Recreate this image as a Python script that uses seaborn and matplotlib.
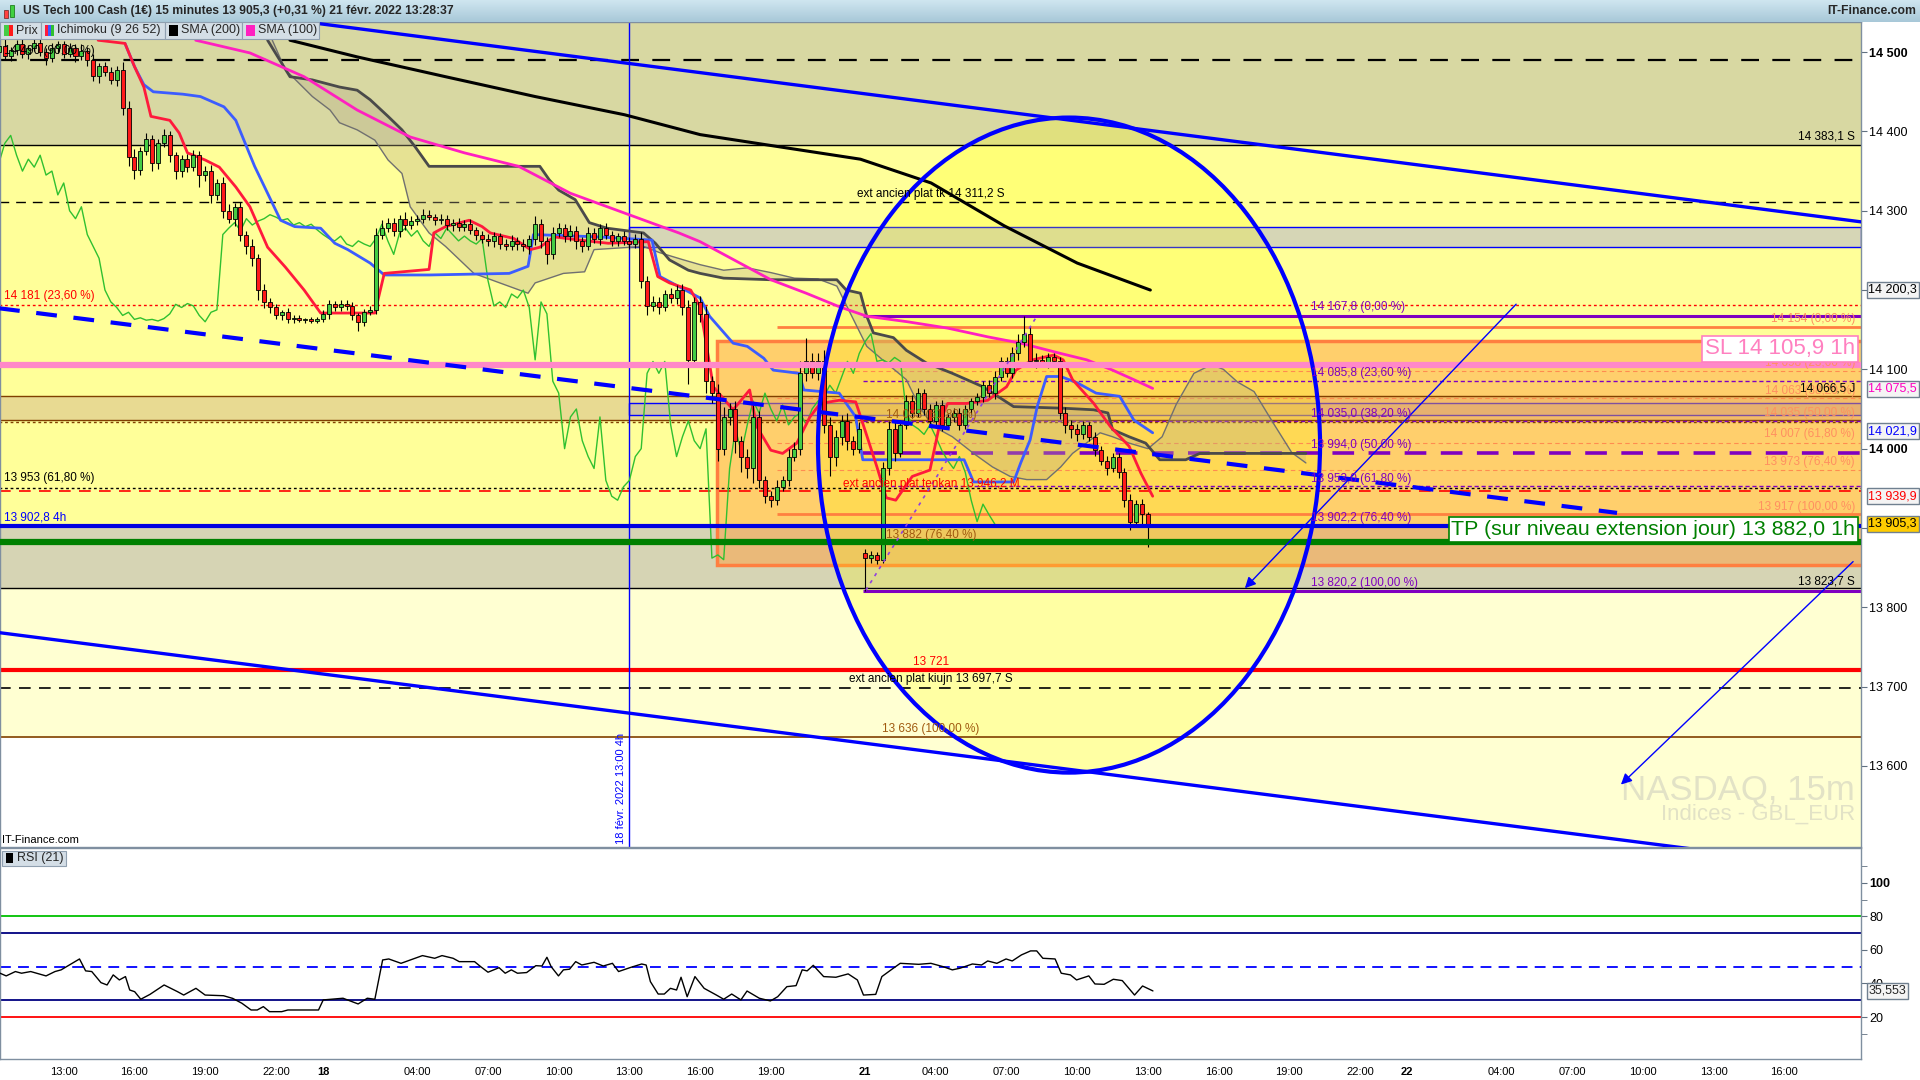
import numpy as np
import pandas as pd
import seaborn as sns
import matplotlib.pyplot as plt
import matplotlib.transforms as mtransforms
from matplotlib.colors import LinearSegmentedColormap
from matplotlib.patches import Ellipse, Rectangle, FancyArrowPatch

# ---------------- données ----------------
# bougies 15 min ; axe X = heures de cotation continues depuis le 17 févr 00:00 (week-end retiré)
first_hour = 10.0
bar_step = 0.25
first_open = 14496
monday_hour = 47.0          # 21 févr, première bougie (gap)
monday_open = 13868

closes = [
    14500, 14508, 14495, 14503, 14510, 14498, 14505, 14512,
    14500, 14492, 14505, 14510, 14498, 14505, 14495, 14502,
    14490, 14470, 14482, 14475, 14465, 14478, 14430, 14368,
    14352, 14375, 14390, 14360, 14385, 14395, 14370, 14350,
    14365, 14355, 14370, 14345, 14350, 14320, 14335, 14300,
    14290, 14305, 14270, 14255, 14240, 14200, 14185, 14178,
    14168, 14172, 14163, 14165, 14162, 14163, 14161, 14164,
    14170, 14182, 14178, 14183, 14180, 14168, 14160, 14172,
    14175, 14270, 14278, 14285, 14275, 14290, 14282, 14287,
    14290, 14295, 14292, 14288, 14290, 14282, 14285, 14280,
    14283, 14276, 14270, 14265, 14262, 14268, 14258, 14255,
    14262, 14258, 14255, 14265, 14283, 14262, 14245, 14272,
    14278, 14268, 14275, 14262, 14255, 14272, 14265, 14278,
    14270, 14262, 14268, 14262, 14258, 14265, 14212, 14180,
    14185, 14178, 14195, 14190, 14200, 14178, 14112, 14185,
    14170, 14085, 14070, 14000, 14040, 14050, 14010, 13990,
    13975, 14040, 13960, 13940, 13935, 13952, 13960, 13990,
    14000, 14095, 14110, 14095, 14110, 14030, 13990, 14015,
    14035, 14010, 14000, 14025,
    13862, 13866, 13860, 13975, 14025, 13995, 14030, 14060,
    14045, 14070, 14050, 14035, 14055, 14030, 14040, 14045,
    14030, 14050, 14060, 14065, 14080, 14070, 14090, 14110,
    14095, 14120, 14135, 14145, 14110, 14112, 14108, 14115,
    14110, 14045, 14030, 14025, 14018, 14030, 14015, 13998,
    13985, 13975, 13990, 13970, 13935, 13908, 13930, 13917,
    13905,
]
wick_up = [
    6, 5, 8, 4, 5, 8, 4, 6, 7, 5, 6, 4, 4, 6, 5, 8,
    5, 8, 4, 6, 6, 5, 10, 8, 10, 6, 8, 5, 6, 8, 5, 4,
    5, 7, 6, 5, 6, 8, 5, 7, 8, 5, 6, 4, 9, 6, 8, 5,
    4, 3, 5, 3, 3, 2, 3, 2, 5, 6, 4, 5, 4, 5, 3, 4,
    5, 8, 10, 6, 6, 5, 8, 6, 5, 7, 6, 4, 6, 5, 4, 6,
    5, 6, 4, 5, 6, 5, 4, 6, 8, 5, 6, 4, 10, 6, 5, 8,
    6, 5, 7, 6, 5, 8, 6, 5, 6, 5, 4, 6, 5, 6, 8, 6,
    8, 6, 5, 7, 6, 8, 10, 6, 8, 10, 6, 12, 12, 8, 10, 6,
    10, 15, 8, 6, 6, 8, 5, 10, 8, 15, 30, 10, 10, 15, 10, 8,
    8, 10, 6, 8,
    6, 5, 4, 8, 10, 8, 6, 8, 8, 6, 5, 6, 5, 6, 4, 6,
    6, 5, 4, 5, 5, 6, 8, 6, 6, 8, 10, 22, 10, 8, 6, 5,
    5, 6, 8, 6, 6, 5, 4, 6, 5, 6, 4, 5, 6, 8, 5, 6,
    3,
]
wick_dn = [
    5, 7, 4, 6, 6, 5, 7, 4, 5, 8, 4, 6, 6, 4, 7, 5,
    8, 6, 9, 5, 5, 8, 9, 12, 12, 7, 5, 10, 7, 5, 9, 10,
    8, 6, 5, 15, 8, 10, 6, 9, 6, 9, 8, 10, 10, 12, 8, 7,
    5, 6, 4, 5, 2, 3, 2, 3, 4, 6, 5, 4, 5, 6, 12, 5,
    4, 5, 6, 5, 7, 8, 6, 5, 5, 6, 4, 6, 5, 6, 8, 5,
    6, 5, 7, 6, 7, 8, 6, 5, 5, 7, 6, 9, 8, 9, 12, 6,
    5, 7, 6, 10, 7, 5, 6, 8, 5, 7, 6, 5, 6, 5, 10, 12,
    6, 8, 5, 6, 7, 9, 30, 8, 10, 15, 12, 15, 8, 10, 15, 20,
    12, 18, 10, 8, 8, 6, 5, 7, 6, 8, 10, 6, 8, 10, 25, 12,
    10, 12, 8, 6,
    42, 6, 5, 4, 8, 10, 6, 5, 6, 5, 8, 7, 6, 8, 5, 7,
    7, 5, 6, 5, 6, 5, 7, 5, 5, 6, 8, 7, 6, 8, 5, 6,
    6, 8, 10, 12, 8, 6, 5, 7, 6, 8, 5, 7, 8, 10, 5, 12,
    29,
]

# Ichimoku (9 26 52) et moyennes mobiles : (heure, prix) relevés
tenkan = [(14.46, 14515), (15.6, 14511), (16.0, 14482), (16.4, 14456), (16.7, 14419), (17.5, 14414),
          (17.9, 14398), (18.25, 14373), (19.0, 14364), (19.6, 14355), (20.3, 14330), (20.9, 14305),
          (21.65, 14254), (22.4, 14229), (23.2, 14200), (23.9, 14171), (26.2, 14171), (26.6, 14221),
          (28.5, 14226), (28.7, 14272), (29.2, 14280), (30.2, 14288), (30.75, 14280), (31.1, 14272),
          (32.1, 14265), (32.8, 14251), (33.2, 14254), (33.8, 14267), (34.9, 14263), (36.1, 14259),
          (37.8, 14261), (38.2, 14217), (38.7, 14209), (39.6, 14200), (40.0, 14179), (40.56, 14078),
          (41.4, 14049), (42.1, 14074), (42.4, 14028), (43.0, 13998), (43.5, 13994), (44.1, 14007),
          (44.66, 14040), (45.1, 14057), (45.9, 14061), (46.6, 14059), (46.9, 14032), (47.5, 13977),
          (47.9, 13938), (48.3, 13935), (49.0, 13965), (49.75, 13973), (50.2, 14036), (50.5, 14057),
          (51.3, 14057), (52.2, 14061), (53.0, 14078), (53.4, 14099), (54.1, 14112), (55.0, 14118),
          (55.4, 14112), (55.8, 14087), (56.7, 14057), (57.4, 14028), (58.2, 14003), (58.7, 13969),
          (59.2, 13940)]
kijun = [(15.6, 14511), (16.0, 14482), (16.4, 14459), (16.8, 14450), (18.05, 14447), (18.8, 14444),
         (19.8, 14431), (20.3, 14414), (20.7, 14385), (21.1, 14356), (21.65, 14322), (22.2, 14288),
         (22.8, 14280), (23.9, 14278), (24.5, 14259), (25.05, 14251), (26.0, 14234), (26.6, 14219),
         (28.5, 14219), (31.9, 14221), (32.7, 14230), (32.93, 14270), (35.7, 14267), (37.96, 14263),
         (38.3, 14217), (40.0, 14190), (40.4, 14167), (41.4, 14133), (42.0, 14129), (42.7, 14114),
         (43.1, 14099), (44.2, 14095), (44.4, 14074), (45.9, 14070), (46.2, 14057), (46.6, 14040),
         (46.9, 13986), (51.2, 13986), (51.6, 13958), (53.3, 13958), (53.6, 13982), (54.0, 14011),
         (54.3, 14053), (54.7, 14091), (55.3, 14091), (56.0, 14083), (56.8, 14070), (57.8, 14066),
         (58.4, 14036), (59.2, 14020)]
senkou_a = [(21.85, 14515), (22.4, 14478), (23.55, 14444), (24.3, 14427), (24.7, 14411), (25.45, 14402),
            (26.2, 14389), (26.76, 14364), (27.35, 14347), (27.7, 14305), (28.5, 14272), (29.2, 14255),
            (30.4, 14221), (31.5, 14209), (32.7, 14196), (33.0, 14209), (34.2, 14221), (35.1, 14223),
            (35.5, 14251), (37.6, 14255), (38.3, 14247), (39.3, 14238), (40.0, 14232), (41.0, 14225),
            (42.0, 14228), (43.0, 14222), (44.0, 14215), (45.0, 14214), (45.8, 14205), (47.07, 14129),
            (47.9, 14108), (48.75, 14087), (49.3, 14053), (49.9, 14028), (50.7, 14015), (51.6, 13994),
            (52.4, 13977), (53.15, 13965), (53.86, 13961), (54.7, 13961), (55.3, 13977), (55.8, 13994),
            (56.97, 14020), (57.5, 14015), (58.2, 14007), (59.0, 14000), (59.6, 14015), (60.2, 14056),
            (60.95, 14095), (61.7, 14106), (62.2, 14100), (62.8, 14084), (63.5, 14072), (64.3, 14033),
            (65.1, 13995), (65.7, 13982)]
senkou_b = [(21.65, 14515), (22.6, 14469), (23.55, 14465), (24.7, 14456), (25.45, 14452), (26.0, 14440),
            (26.76, 14419), (27.35, 14402), (27.9, 14381), (28.5, 14356), (33.2, 14356), (33.6, 14339),
            (34.0, 14326), (34.7, 14314), (35.3, 14285), (36.05, 14278), (37.6, 14272), (38.1, 14259),
            (38.7, 14238), (39.5, 14225), (40.0, 14221), (41.0, 14215), (43.0, 14213), (45.8, 14213),
            (46.2, 14200), (46.8, 14196), (47.07, 14167), (47.35, 14146), (48.2, 14140), (48.75, 14124),
            (49.6, 14108), (50.7, 14095), (52.0, 14078), (53.3, 14053), (55.4, 14051), (56.7, 14049),
            (57.3, 14045), (57.5, 14024), (58.2, 14015), (58.9, 14007), (59.5, 13986), (60.6, 13986),
            (61.2, 13994), (65.7, 13994)]
sma200 = [(22.6, 14515), (25.45, 14494), (29.2, 14469), (33.0, 14444), (36.8, 14421), (40.0, 14396),
          (43.5, 14380), (46.8, 14365), (49.8, 14335), (52.9, 14281), (56.0, 14234), (59.1, 14200)]
sma100 = [(18.6, 14515), (20.9, 14499), (23.2, 14469), (25.45, 14427), (27.7, 14393), (30.0, 14373),
          (32.3, 14356), (34.5, 14322), (36.8, 14297), (39.1, 14272), (40.0, 14261), (43.0, 14213),
          (44.5, 14196), (45.9, 14179), (47.07, 14167), (48.8, 14160), (50.5, 14152), (52.2, 14141),
          (53.6, 14133), (55.3, 14120), (56.4, 14112), (57.5, 14099), (58.4, 14087), (59.2, 14076)]

# RSI (21)
rsi = [(10.30, 46.1), (10.56, 44.5), (10.95, 47.1), (11.21, 46.1), (11.60, 47.1), (12.25, 44.5),
       (12.63, 47.1), (12.89, 48.1), (13.67, 54.6), (13.93, 47.5), (14.19, 47.1), (14.58, 40.5),
       (14.84, 39.1), (15.10, 45.1), (15.36, 42.1), (15.62, 44.1), (15.80, 36.1), (16.01, 35.1),
       (16.27, 30.6), (16.66, 33.5), (17.26, 39.1), (17.83, 35.1), (18.09, 33.1), (18.61, 37.1),
       (19.00, 33.1), (19.78, 32.7), (20.17, 31.1), (20.56, 28.2), (20.95, 24.2), (21.21, 24.2),
       (21.47, 26.2), (21.73, 23.2), (22.25, 23.2), (22.51, 24.2), (23.81, 24.2), (24.01, 30.2),
       (24.85, 31.2), (25.49, 27.8), (25.88, 31.2), (26.20, 30.6), (26.53, 54.0), (26.79, 54.6),
       (27.31, 52.0), (27.70, 54.0), (28.22, 56.6), (28.74, 55.0), (29.05, 56.6), (29.52, 55.0),
       (29.78, 53.0), (30.43, 53.0), (30.69, 50.0), (31.00, 46.7), (31.47, 49.4), (31.73, 46.1),
       (31.99, 48.1), (32.25, 46.1), (32.64, 46.5), (33.03, 50.6), (33.29, 50.4), (33.50, 55.6),
       (33.68, 50.0), (33.99, 44.5), (34.20, 48.1), (34.46, 48.5), (34.72, 53.0), (34.98, 51.0),
       (35.50, 52.6), (35.89, 50.4), (36.28, 52.0), (36.54, 47.1), (37.06, 49.6), (37.52, 51.6),
       (37.71, 51.0), (37.89, 41.1), (38.22, 33.7), (38.48, 33.7), (38.74, 37.1), (39.00, 36.1),
       (39.19, 43.7), (39.45, 32.1), (39.78, 44.1), (40.17, 37.1), (40.69, 33.1), (41.00, 30.6),
       (41.34, 33.7), (41.73, 30.2), (41.99, 35.5), (42.51, 31.2), (42.98, 29.6), (43.29, 32.1),
       (43.68, 38.1), (44.07, 38.7), (44.33, 48.1), (44.54, 47.5), (44.80, 50.8), (45.24, 44.1),
       (45.76, 43.7), (46.28, 45.7), (46.67, 42.1), (46.93, 33.1), (47.45, 33.5), (47.71, 44.1),
       (48.10, 48.1), (48.49, 52.0), (49.27, 51.4), (49.79, 52.0), (50.31, 50.0), (50.70, 48.1),
       (51.03, 49.1), (51.55, 51.6), (51.94, 51.0), (52.20, 53.4), (52.59, 52.0), (52.98, 54.6),
       (53.24, 53.4), (53.63, 57.0), (54.02, 59.4), (54.28, 59.4), (54.54, 55.0), (55.06, 54.6),
       (55.32, 46.1), (55.71, 45.1), (55.97, 42.1), (56.49, 44.5), (56.75, 39.7), (57.14, 39.5),
       (57.53, 42.5), (57.91, 41.7), (58.43, 33.1), (58.77, 38.5), (59.21, 35.55)]
rsi_levels = [(80, '#00C000', '-'), (70, '#000080', '-'), (50, '#0000FF', '--'), (30, '#000080', '-'), (20, '#FF0000', '-')]

# axe des temps
tick_hours = [13, 16, 19, 22, 24, 28, 31, 34, 37, 40, 43, 47, 50, 53, 56, 59, 62, 65, 68, 70, 74, 77, 80, 83, 86]
tick_labels = ['13:00', '16:00', '19:00', '22:00', '18', '04:00', '07:00', '10:00', '13:00', '16:00',
               '19:00', '21', '04:00', '07:00', '10:00', '13:00', '16:00', '19:00', '22:00', '22',
               '04:00', '07:00', '10:00', '13:00', '16:00']
price_ticks = [14500, 14400, 14300, 14200, 14100, 14000, 13900, 13800, 13700, 13600]

# niveaux tracés : (prix, couleur, épaisseur, style, heure de départ)
levels = [
    (14490, 'black', 1.6, (0, (8, 6)), None),
    (14383.1, 'black', 1.0, '-', None),
    (14311.2, 'black', 1.0, (0, (7, 5)), None),
    (14181, '#FF0000', 1.0, (0, (2, 2)), None),
    (14167.8, '#7F00C0', 2.2, '-', 46.9),
    (14154, '#FF8040', 2.0, '-', 43.25),
    (14098, '#FF8C50', 0.8, (0, (4, 3)), 43.25),
    (14085.8, '#7F00C0', 1.0, (0, (3, 2)), 46.9),
    (14066.5, '#804000', 1.0, '-', None),
    (14063.5, '#FF8C50', 0.8, (0, (4, 3)), 43.25),
    (14036, '#804000', 1.0, '-', None),
    (14035.5, '#FF8C50', 0.8, (0, (4, 3)), 43.25),
    (14035.0, '#7F00C0', 1.0, (0, (3, 2)), 46.9),
    (14033, '#804000', 1.0, (0, (2, 2)), None),
    (14007.5, '#FF8C50', 0.8, (0, (4, 3)), 43.25),
    (13994.0, '#7F00C0', 2.6, (0, (6, 4)), 46.9),
    (13973, '#FF8C50', 0.8, (0, (4, 3)), 43.25),
    (13953.0, '#7F00C0', 1.0, (0, (3, 2)), 46.9),
    (13951, 'black', 1.0, (0, (2, 2)), None),
    (13946.2, '#FF0000', 1.2, (0, (7, 5)), None),
    (13917, '#FF8040', 2.0, '-', 43.25),
    (13902.2, '#7F00C0', 1.0, (0, (3, 2)), 46.9),
    (13823.7, 'black', 1.0, '-', None),
    (13820.2, '#7F00C0', 2.2, '-', 46.9),
    (13721, '#FF0000', 3.0, '-', None),
    (13697.7, 'black', 1.2, (0, (7, 5)), None),
    (13636, '#804000', 1.2, '-', None),
]
sl_level, tp_level, h4_level = 14105.9, 13882.0, 13902.8

# textes posés sur le graphique : (heure, prix, texte, couleur, alignement)
notes = [
    (10.45, 14501, '14 490 (90,00 %)', 'black', 'left'),
    (10.45, 14192, '14 181 (23,60 %)', '#FF0000', 'left'),
    (10.45, 13963, '13 953 (61,80 %)', 'black', 'left'),
    (10.45, 13913, '13 902,8 4h', '#0000FF', 'left'),
    (49.8, 14321, 'ext ancien plat tk 14 311,2 S', 'black', 'center'),
    (49.8, 13956, 'ext ancien plat tenkan 13 946,2 M', '#FF0000', 'center'),
    (49.8, 14043, '14 033 (61,80 %)', '#A05A10', 'center'),
    (49.8, 13891, '13 882 (76,40 %)', '#A05A10', 'center'),
    (49.8, 13731, '13 721', '#FF0000', 'center'),
    (49.8, 13709, 'ext ancien plat kiujn 13 697,7 S', 'black', 'center'),
    (49.8, 13646, '13 636 (100,00 %)', '#A05A10', 'center'),
    (89.0, 14394, '14 383,1 S', 'black', 'right'),
    (89.0, 14164, '14 154 (0,00 %)', '#FF9060', 'right'),
    (89.0, 14108, '14 098 (23,60 %)', '#FF9060', 'right'),
    (89.0, 14073, '14 063 (38,20 %)', '#FF9060', 'right'),
    (89.0, 14076, '14 066,5 J', 'black', 'right'),
    (89.0, 14045, '14 035 (50,00 %)', '#FF9060', 'right'),
    (89.0, 14018, '14 007 (61,80 %)', '#FF9060', 'right'),
    (89.0, 13983, '13 973 (76,40 %)', '#FF9060', 'right'),
    (89.0, 13927, '13 917 (100,00 %)', '#FF9060', 'right'),
    (89.0, 13833, '13 823,7 S', 'black', 'right'),
    (65.9, 14178, '14 167,8 (0,00 %)', '#7F00C0', 'left'),
    (65.9, 14096, '14 085,8 (23,60 %)', '#7F00C0', 'left'),
    (65.9, 14044, '14 035,0 (38,20 %)', '#7F00C0', 'left'),
    (65.9, 14004, '13 994,0 (50,00 %)', '#7F00C0', 'left'),
    (65.9, 13962, '13 953,0 (61,80 %)', '#7F00C0', 'left'),
    (65.9, 13912, '13 902,2 (76,40 %)', '#7F00C0', 'left'),
    (65.9, 13830, '13 820,2 (100,00 %)', '#7F00C0', 'left'),
]
# étiquettes encadrées sur l'échelle de droite : (valeur, texte, couleur texte, fond)
price_flags = [(14200.3, '14 200,3', 'black', '#F4F4F4'), (14075.5, '14 075,5', '#FF00C0', '#F4F4F4'),
               (14021.9, '14 021,9', '#0000FF', '#F4F4F4'), (13939.9, '13 939,9', '#FF0000', '#F4F4F4'),
               (13905.3, '13 905,3', 'black', '#FFCC00')]

# lignes de tendance et flèches : (heure, prix)
trend_high = [(20.0, 14550.6), (89.25, 14286)]
trend_low = [(10.0, 13769), (89.25, 13468)]
trend_mid = [(10.0, 14178), (78.9, 13919)]
fibo_diag = [(47.03, 13821.5), (54.3, 14167.7)]
arrows = [((74.7, 14184.7), (63.03, 13821.5)), ((89.0, 13860), (78.98, 13574))]
ellipse_center, ellipse_w, ellipse_h = (55.65, 14004.5), 21.3, 826

# ---------------- mise en page ----------------
W, H = 1920, 1080
X0, X1 = 10.297, 89.25
Y0, Y1 = 13497.7, 14538

sns.set_style('white')
plt.rcParams['font.family'] = ['Liberation Sans', 'DejaVu Sans']
fig = plt.figure(figsize=(W / 100, H / 100), dpi=100, facecolor='white')


def frac(x0, y0, x1, y1):
    return [x0 / W, 1 - y1 / H, (x1 - x0) / W, (y1 - y0) / H]


def trace(axis, pts, **kw):
    df = pd.DataFrame(pts, columns=['heure', 'valeur'])
    sns.lineplot(data=df, x='heure', y='valeur', ax=axis, sort=False, estimator=None, legend=False, **kw)


ax = fig.add_axes(frac(0, 22, 1861, 847))
ax_rsi = fig.add_axes(frac(0, 848, 1861, 1059), sharex=ax)

# fonds de zones
grid_h = np.linspace(X0 - 1, X1 + 1, 400)
low_line = np.interp(grid_h, [p[0] for p in trend_low], [p[1] for p in trend_low])
ax.set_facecolor('white')
ax.fill_between(grid_h, np.minimum(low_line, 13636), 13823.7, color='#FFFFD2', lw=0, zorder=0)
ax.axhspan(13823.7, 14383.1, color='#FFFF99', lw=0, zorder=0)
ax.axhspan(14383.1, 14600, color='#D8D8A2', lw=0, zorder=0)
ax.axhspan(13823.7, 13902.8, color='#D6D4B4', lw=0, zorder=0.2)
ax.axhspan(14036, 14066.5, color='#E8DA92', lw=0, zorder=0.2)
ax.add_patch(Rectangle((37, 14254), X1 - 37, 26, fc='#D6D6B6', ec='#0000FF', lw=1, zorder=0.3))
ax.add_patch(Rectangle((37, 14042), X1 - 37, 15, fc='#CFC4A0', ec='#0000FF', lw=1, zorder=0.3))
ax.add_patch(Rectangle((40.7, 13853), X1 - 40.7 + 1, 14136 - 13853, fc='#FFA040', alpha=0.5, lw=0, zorder=0.4))
ax.add_patch(Rectangle((40.7, 13853), X1 - 40.7 + 1, 14136 - 13853, fill=False, ec='#FF7F40', lw=2.5, zorder=0.5))
ax.add_patch(Ellipse(ellipse_center, ellipse_w, ellipse_h, fc='#FFFF00', alpha=0.22, lw=0, zorder=0.6))

# niveaux horizontaux
for price, col, lw, ls, start in levels:
    ax.hlines(price, X0 - 1 if start is None else start, X1 + 1, colors=col, lw=lw, linestyles=ls, zorder=1)
ax.axvline(37, color='#0000FF', lw=1, zorder=1)

# nuage ichimoku
cloud = np.array(senkou_a + senkou_b[::-1])
ax.fill(cloud[:, 0], cloud[:, 1], color='#B8AE88', alpha=0.35, lw=0, zorder=1.5)
trace(ax, senkou_a, color='#707070', linewidth=1.0, zorder=2)
trace(ax, senkou_b, color='#4A4A4A', linewidth=2.0, zorder=2)

# chikou = clôtures décalées de 26 bougies
n = len(closes)
t = first_hour + bar_step * np.arange(n)
c = np.array(closes, float)
chikou = pd.DataFrame({'heure': t[:-26], 'valeur': c[26:]})
sns.lineplot(data=chikou, x='heure', y='valeur', ax=ax, color='#30C030', linewidth=1.0, zorder=2.2, legend=False)
trace(ax, sma200, color='black', linewidth=2.2, zorder=2.4)
trace(ax, sma100, color='#FF20C0', linewidth=2.0, zorder=2.4)
trace(ax, kijun, color='#3C5CFF', linewidth=2.0, zorder=2.6)
trace(ax, tenkan, color='#FF1A3C', linewidth=2.0, zorder=2.7)

# bougies
o = np.r_[first_open, c[:-1]]
o[int(round((monday_hour - first_hour) / bar_step))] = monday_open
hi = np.maximum(o, c) + np.array(wick_up)
lo = np.minimum(o, c) - np.array(wick_dn)
cols = np.where(c >= o, '#44CC44', '#FF1A1A')
ax.vlines(t, lo, hi, colors='black', lw=0.8, zorder=3)
ax.bar(t, np.maximum(np.abs(c - o), 0.8), bottom=np.minimum(o, c), width=0.17, color=cols,
       edgecolor='black', linewidth=0.6, zorder=3.2)

# lignes clés au-dessus des bougies
ax.axhline(sl_level, color='#FF88C8', lw=4.5, zorder=4)
ax.axhline(h4_level, color='#0000E0', lw=3.0, zorder=4)
ax.axhline(tp_level, color='#008000', lw=4.5, zorder=4)

# tendances, ellipse, flèches
for line, lw, ls in [(trend_high, 2.4, '-'), (trend_low, 2.4, '-'), (trend_mid, 3.0, (0, (5, 4)))]:
    xs, ys = zip(*line)
    ax.plot(xs, ys, color='#0000FF', lw=lw, ls=ls, zorder=5)
xs, ys = zip(*fibo_diag)
ax.plot(xs, ys, color='#9040E0', lw=1.2, ls=(0, (2, 3)), zorder=5)
ax.add_patch(Ellipse(ellipse_center, ellipse_w, ellipse_h, fill=False, ec='#0000FF', lw=3, zorder=5))
for start, end in arrows:
    ax.add_patch(FancyArrowPatch(start, end, arrowstyle='-|>', mutation_scale=16, color='#0000FF',
                                 lw=1.0, zorder=5))

for hx, py, txt, col, ha in notes:
    ax.text(hx, py, txt, color=col, ha=ha, va='center', fontsize=8.5, zorder=6)

ax.text(89.0, tp_level + 16, 'TP (sur niveau extension jour) 13 882,0 1h', color='#008000', fontsize=15.4,
        ha='right', va='center', zorder=7,
        bbox=dict(boxstyle='square,pad=0.12', fc='white', ec='#008000', lw=1.2))
ax.text(89.0, sl_level + 20, 'SL 14 105,9 1h', color='#FF80C0', fontsize=16, ha='right', va='center', zorder=7,
        bbox=dict(boxstyle='square,pad=0.12', fc='white', ec='#FF80C0', lw=1.2))
ax.text(89.0, 13557, 'NASDAQ, 15m', color='#E2E2C6', fontsize=25, ha='right', va='baseline', zorder=1)
ax.text(89.0, 13532, 'Indices - GBL_EUR', color='#E2E2C6', fontsize=16, ha='right', va='baseline', zorder=1)
ax.text(10.4, 13503, 'IT-Finance.com', color='black', fontsize=8, ha='left', va='baseline', zorder=6)
ax.text(36.85, 13502, '18 févr. 2022 13:00 4h', color='#0000FF', fontsize=8, rotation=90,
        ha='right', va='bottom', zorder=6)

# axe principal ; les étiquettes recouvertes par un cartouche sont laissées vides
ax.set_xlim(X0, X1)
ax.set_ylim(Y0, Y1)
ax.set_xlabel('')
ax.set_ylabel('')
ax.yaxis.tick_right()
ax.set_yticks(price_ticks)
flag_values = [f[0] for f in price_flags]
ax.set_yticklabels(['' if min(abs(v - f) for f in flag_values) < 12 else f'{v // 1000} {v % 1000:03d}'
                    for v in price_ticks])
for lab, v in zip(ax.get_yticklabels(), price_ticks):
    if v in (14500, 14000):
        lab.set_fontweight('bold')
        lab.set_fontsize(9.5)
ax.tick_params(axis='y', direction='out', length=4, pad=2, labelsize=9, colors='#607080', labelcolor='black')
ax.tick_params(axis='x', bottom=False, labelbottom=False)
blend = mtransforms.blended_transform_factory(ax.transAxes, ax.transData)
for val, txt, col, bg in price_flags:
    ax.text(1.004, val, txt, transform=blend, color=col, fontsize=9, ha='left', va='center', zorder=10,
            clip_on=False, bbox=dict(boxstyle='square,pad=0.15', fc=bg, ec='#708090', lw=1))

# RSI
ax_rsi.set_facecolor('white')
for lvl, col, ls in rsi_levels:
    ax_rsi.axhline(lvl, color=col, lw=1.3, ls=(0, (6, 4)) if ls == '--' else '-', zorder=1)
trace(ax_rsi, rsi, color='black', linewidth=1.0, zorder=3)
ax_rsi.set_ylim(-5, 120.7)
ax_rsi.set_xlim(X0, X1)
ax_rsi.set_xlabel('')
ax_rsi.set_ylabel('')
ax_rsi.yaxis.tick_right()
ax_rsi.set_yticks([20, 40, 60, 80, 100])
ax_rsi.set_yticklabels(['20', '40', '60', '80', '100'])
ax_rsi.get_yticklabels()[-1].set_fontweight('bold')
ax_rsi.get_yticklabels()[-1].set_fontsize(10)
ax_rsi.set_yticks([10, 90, 110], minor=True)
ax_rsi.tick_params(axis='y', which='both', direction='out', length=4, pad=2, labelsize=9,
                   colors='#607080', labelcolor='black')
ax_rsi.set_xticks(tick_hours)
ax_rsi.set_xticklabels(tick_labels)
for lab, txt in zip(ax_rsi.get_xticklabels(), tick_labels):
    if ':' not in txt:
        lab.set_fontweight('bold')
        lab.set_fontsize(10)
ax_rsi.tick_params(axis='x', direction='out', length=3, pad=3, labelsize=8, colors='#607080', labelcolor='black')
blend_r = mtransforms.blended_transform_factory(ax_rsi.transAxes, ax_rsi.transData)
ax_rsi.text(1.004, 35.553, '35,553', transform=blend_r, fontsize=9, ha='left', va='center', zorder=10,
            clip_on=False, bbox=dict(boxstyle='square,pad=0.15', fc='#F4F4F4', ec='#708090', lw=1))

for a in (ax, ax_rsi):
    for s in a.spines.values():
        s.set_color('#7F8FA0')
        s.set_linewidth(1)

# bandeau de titre
tax = fig.add_axes(frac(0, 0, W, 22))
grad = np.linspace(0, 1, 40).reshape(-1, 1)
tax.imshow(grad, aspect='auto', extent=[0, 1, 0, 1],
           cmap=LinearSegmentedColormap.from_list('bar', ['#CFE6F0', '#A8C8D8']))
tax.set_axis_off()
fig.patches.append(Rectangle((4 / W, 1 - 18 / H), 4 / W, 8 / H, transform=fig.transFigure, fc='#FF4040', ec='#803030', lw=0.6))
fig.patches.append(Rectangle((10 / W, 1 - 17 / H), 4 / W, 12 / H, transform=fig.transFigure, fc='#40D040', ec='#208020', lw=0.6))
fig.text(23 / W, 1 - 11 / H, 'US Tech 100 Cash (1€) 15 minutes 13 905,3 (+0,31 %) 21 févr. 2022 13:28:37',
         fontsize=8.7, fontweight='bold', va='center', ha='left')
fig.text(1916 / W, 1 - 11 / H, 'IT-Finance.com', fontsize=8.7, fontweight='bold', va='center', ha='right')

# cartouches de légende
legend_boxes = [('Prix', 0, 41, ['#44CC44', '#FF1A1A']), ('Ichimoku (9 26 52)', 41, 165, ['#FF1A3C', '#3C5CFF', '#30C030']),
                ('SMA (200)', 165, 242, ['black']), ('SMA (100)', 242, 319, ['#FF20C0'])]
for label, x0, x1, swatch in legend_boxes:
    fig.patches.append(Rectangle((x0 / W, 1 - 39 / H), (x1 - x0) / W, 17 / H, transform=fig.transFigure,
                                 fc='#D4DEE6', ec='#90A0B0', lw=0.8, zorder=5))
    sw = 9 / len(swatch)
    for i, col in enumerate(swatch):
        fig.patches.append(Rectangle(((x0 + 4 + i * sw) / W, 1 - 36 / H), sw / W, 11 / H,
                                     transform=fig.transFigure, fc=col, lw=0, zorder=6))
    fig.text((x0 + 16) / W, 1 - 30.5 / H, label, fontsize=9, va='center', ha='left', zorder=7)
fig.patches.append(Rectangle((2 / W, 1 - 866 / H), 64 / W, 15 / H, transform=fig.transFigure,
                             fc='#D4DEE6', ec='#90A0B0', lw=0.8, zorder=5))
fig.patches.append(Rectangle((6 / W, 1 - 863 / H), 7 / W, 10 / H, transform=fig.transFigure, fc='black', lw=0, zorder=6))
fig.text(17 / W, 1 - 858.5 / H, 'RSI (21)', fontsize=9, va='center', ha='left', zorder=7)

fig.savefig('out.png', dpi=100, facecolor='white')
